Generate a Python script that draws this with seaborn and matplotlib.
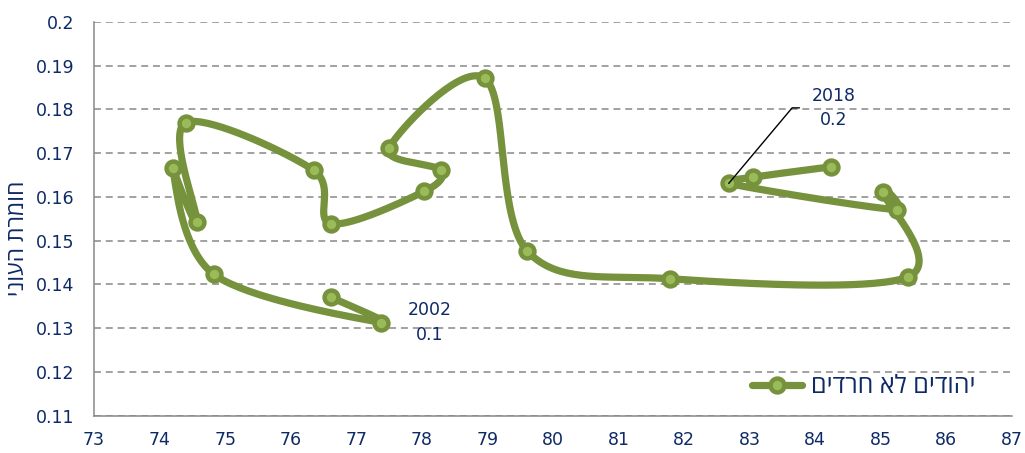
import numpy as np
import pandas as pd
import matplotlib
matplotlib.use("Agg")
import matplotlib.pyplot as plt
from matplotlib.lines import Line2D
import seaborn as sns

# values, in the order the line visits them
x_vals = [76.61, 77.38, 74.83, 74.20, 74.57, 74.40, 76.35, 76.62, 78.04, 78.29,
          77.50, 78.96, 79.61, 81.79, 85.41, 85.03, 85.24, 82.68, 83.05, 84.24]
y_vals = [0.1371, 0.1313, 0.1423, 0.1666, 0.1542, 0.1770, 0.1661, 0.1539, 0.1613, 0.1661,
          0.1712, 0.1871, 0.1476, 0.1413, 0.1417, 0.1611, 0.1571, 0.1631, 0.1645, 0.1669]

x_ticks = list(range(73, 88))
y_ticks = [0.11, 0.12, 0.13, 0.14, 0.15, 0.16, 0.17, 0.18, 0.19, 0.2]
y_tick_labels = ["0.11", "0.12", "0.13", "0.14", "0.15", "0.16", "0.17", "0.18", "0.19", "0.2"]

series_label = "יהודים לא חרדים"
y_title = "חומרת העוני"

# point index -> label text
notes = {1: "2002\n0.1", 17: "2018\n0.2"}

LINE = "#76923C"
FILL = "#9BBB59"
NAVY = "#0E2A66"
GRID = "#888888"
HEB_FONTS = ["Open Sans", "DejaVu Sans"]


def rtl(s):
    # matplotlib has no bidi support, so flip Hebrew for display
    return s[::-1]


def smooth_path(ax, xs, ys, n=40):
    # Excel-style smoothed line, built in display space
    pts = ax.transData.transform(np.column_stack([xs, ys]))
    p = np.vstack([pts[0], pts, pts[-1]])
    t = np.linspace(0, 1, n)[:, None]
    parts = []
    for i in range(1, len(p) - 2):
        p0, p1, p2, p3 = p[i - 1], p[i], p[i + 1], p[i + 2]
        d02 = np.hypot(*(p2 - p0))
        d12 = np.hypot(*(p2 - p1))
        d13 = np.hypot(*(p3 - p1))
        f1 = 1 / 6 if d02 / 6 < d12 / 2 else d12 / (2 * d02)
        f2 = 1 / 6 if d13 / 6 < d12 / 2 else d12 / (2 * d13)
        c1 = p1 + (p2 - p0) * f1
        c2 = p2 - (p3 - p1) * f2
        seg = ((1 - t) ** 3) * p1 + 3 * ((1 - t) ** 2) * t * c1 + 3 * (1 - t) * t ** 2 * c2 + t ** 3 * p2
        parts.append(seg if i == 1 else seg[1:])
    curve = ax.transData.inverted().transform(np.vstack(parts))
    return pd.DataFrame({"x": curve[:, 0], "y": curve[:, 1]})


def main():
    sns.set_style("white")
    plt.rcParams["font.family"] = ["DejaVu Sans"]
    plt.rcParams["lines.scale_dashes"] = False

    fig = plt.figure(figsize=(10.25, 4.53), dpi=100)
    ax = fig.add_axes([94 / 1025, 1 - 415.7 / 453, 918 / 1025, 393.7 / 453])
    ax.set_xlim(73, 87)
    ax.set_ylim(0.11, 0.2)

    curve = smooth_path(ax, x_vals, y_vals)
    sns.lineplot(data=curve, x="x", y="y", sort=False, estimator=None,
                 color=LINE, linewidth=5.2, ax=ax, zorder=2)
    ax.plot(x_vals, y_vals, linestyle="none", marker="o", markersize=10,
            markerfacecolor=FILL, markeredgecolor=LINE, markeredgewidth=3.2, zorder=3)

    for i, txt in notes.items():
        if i == 1:
            ax.annotate(txt, xy=(x_vals[i], y_vals[i]), xytext=(35, 0),
                        textcoords="offset points", ha="center", va="center",
                        fontsize=12.5, color=NAVY, linespacing=1.45, zorder=5)
        else:
            ax.annotate(txt, xy=(x_vals[i], y_vals[i]), xytext=(75.6, 54.4),
                        textcoords="offset points", ha="center", va="center",
                        fontsize=12.5, color=NAVY, linespacing=1.45, zorder=5,
                        arrowprops=dict(arrowstyle="-", color="black", lw=1,
                                        connectionstyle="angle,angleA=0,angleB=50,rad=0",
                                        relpos=(0, 0.5), shrinkA=6.5, shrinkB=0))

    ax.set_xticks(x_ticks)
    ax.set_yticks(y_ticks)
    ax.set_yticklabels(y_tick_labels)
    ax.set_xlabel("")
    ax.set_ylabel("")
    ax.tick_params(axis="both", colors=GRID, labelcolor=NAVY, labelsize=12.5,
                   direction="out", length=5, width=1.1)
    ax.tick_params(axis="y", pad=9)
    ax.tick_params(axis="x", pad=6)

    ax.yaxis.grid(True, color=GRID, linewidth=1.1, linestyle=(0, (5, 3.5)))
    ax.xaxis.grid(False)
    for side in ["top", "right"]:
        ax.spines[side].set_visible(False)
    for side in ["left", "bottom"]:
        ax.spines[side].set_color(GRID)
        ax.spines[side].set_linewidth(1.1)

    fig.text(18 / 1025, 1 - 238 / 453, rtl(y_title), rotation=90, ha="center",
             va="center", fontsize=16.5, color=NAVY, family=HEB_FONTS)

    handle = Line2D([], [], color=LINE, linewidth=5.2, marker="o", markersize=10,
                    markerfacecolor=FILL, markeredgecolor=LINE, markeredgewidth=3.2)
    leg = ax.legend([handle], [rtl(series_label)], loc="center right",
                    bbox_to_anchor=(0.974, 0.073), frameon=False, borderpad=0,
                    handlelength=2.0, handletextpad=0.35,
                    prop={"family": HEB_FONTS, "size": 18})
    for t in leg.get_texts():
        t.set_color(NAVY)

    fig.savefig("out.png", dpi=100)


if __name__ == "__main__":
    main()
